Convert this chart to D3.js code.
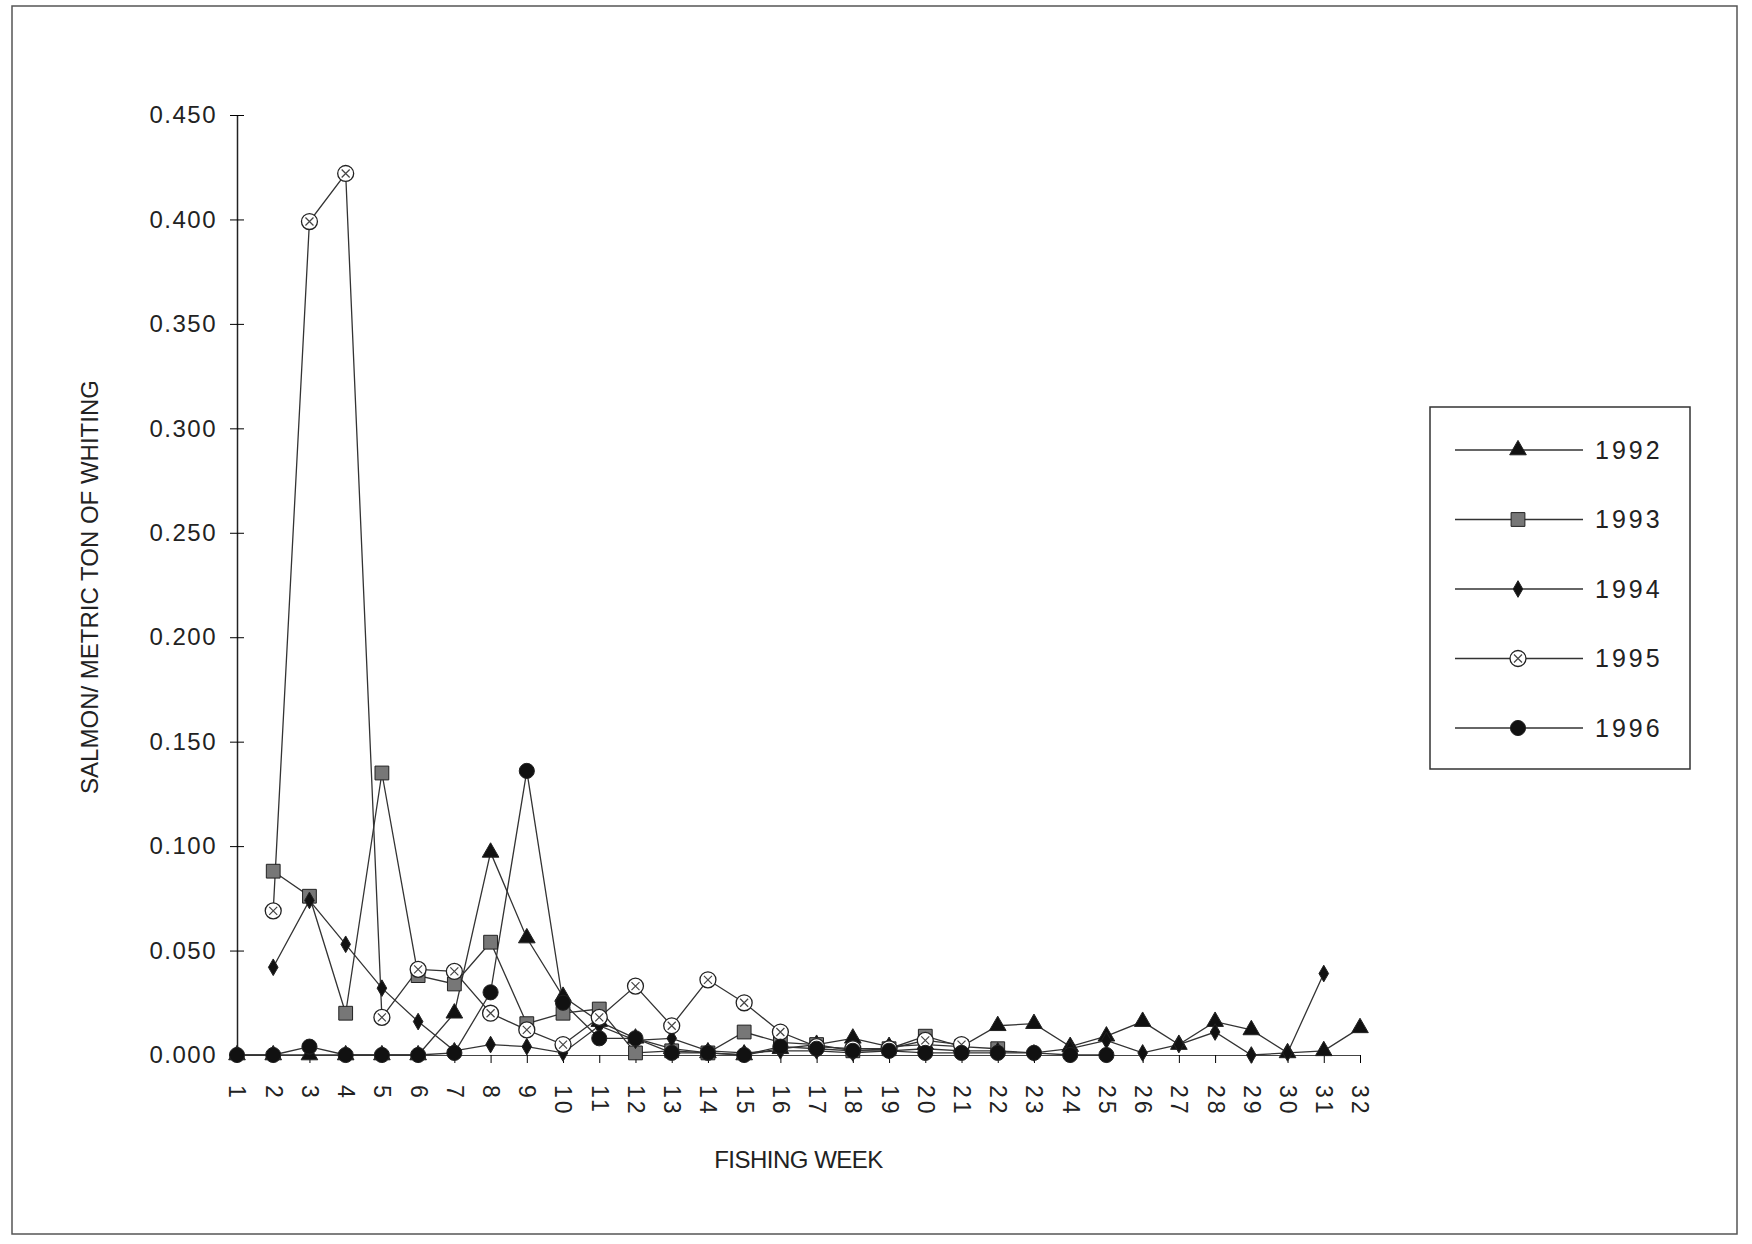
<!DOCTYPE html>
<html><head><meta charset="utf-8">
<script src="https://cdn.jsdelivr.net/npm/d3@7"></script>
<style>body{margin:0;background:#fff}text{font-family:"Liberation Sans",Arial,sans-serif;fill:#222}</style>
</head><body><div id="chart"></div>
<script>
// fishing weeks 1..32
var weeks = d3.range(1, 33)
var yTicks = [0, 0.05, 0.1, 0.15, 0.2, 0.25, 0.3, 0.35, 0.4, 0.45]
var years = ['1992', '1993', '1994', '1995', '1996']

// values by week starting at week 1 (null = no data)
var v1992 = [0,0,0,0,0,0,0.020,0.097,0.056,0.028,0.016,0.008,0.003,0.001,0.000,0.003,0.005,0.008,0.004,0.005,0.004,0.014,0.015,0.004,0.009,0.016,0.005,0.016,0.012,0.001,0.002,0.013]
var v1993 = [null,0.088,0.076,0.020,0.135,0.038,0.034,0.054,0.015,0.020,0.022,0.001,0.002,0.001,0.011,0.006,0.005,0.002,0.003,0.009,0.004,0.003]
var v1994 = [null,0.042,0.074,0.053,0.032,0.016,0.002,0.005,0.004,0.001,0.014,0.007,0.008,0.002,0.001,0.002,0.002,0.001,0.002,0.003,0.002,0.002,0.001,0.003,0.007,0.001,0.005,0.011,0.000,0.001,0.039]
var v1995 = [null,0.069,0.399,0.422,0.018,0.041,0.040,0.020,0.012,0.005,0.018,0.033,0.014,0.036,0.025,0.011,0.004,0.003,0.003,0.007,0.005]
var v1996 = [0,0,0.004,0,0,0,0.001,0.030,0.136,0.025,0.008,0.008,0.001,0.001,0,0.004,0.003,0.002,0.002,0.001,0.001,0.001,0.001,0,0]
var allValues = [v1992, v1993, v1994, v1995, v1996]

var W = 1752, H = 1244
var margin = {top: 115, left: 237, right: 392, bottom: 189}

var svg = d3.select("#chart").append("svg").attr("width", W).attr("height", H)
svg.append("rect").attr("x", 12).attr("y", 6).attr("width", 1725).attr("height", 1228)
  .attr("fill", "none").attr("stroke", "#555").attr("stroke-width", 1.5)

var g = svg.append("g").attr("transform", "translate(" + margin.left + "," + margin.top + ")")

var x = d3.scaleLinear().domain([1, 32]).range([0, 1123])
var y = d3.scaleLinear().domain([0, 0.45]).range([940, 0])

var yAxis = g.append("g").call(d3.axisLeft(y).tickValues(yTicks).tickFormat(d3.format(".3f")).tickSize(7).tickSizeOuter(0))
yAxis.selectAll(".tick line").attr("x2", 7).attr("x1", -7)
yAxis.selectAll("text").attr("x", -20).style("font-size", "24px").style("letter-spacing", "1.5px")
yAxis.select(".domain").attr("stroke", "#222").attr("stroke-width", 1.5)

var xAxis = g.append("g").attr("transform", "translate(0," + y(0) + ")")
  .call(d3.axisBottom(x).tickValues(weeks).tickFormat(d3.format("d")).tickSize(8).tickSizeOuter(0))
xAxis.select(".domain").attr("stroke", "#444")
xAxis.selectAll("text").attr("transform", "rotate(90)").attr("y", 0).attr("x", 30).attr("dy", "0.35em")
  .style("text-anchor", "start").style("font-size", "23px").style("letter-spacing", "3px")

g.append("text").attr("x", x(16.5)).attr("y", 1053).attr("text-anchor", "middle")
  .style("font-size", "24px").style("letter-spacing", "-0.5px").text("FISHING WEEK")
svg.append("text").attr("transform", "translate(98,587) rotate(-90)").attr("text-anchor", "middle")
  .style("font-size", "24px").text("SALMON/ METRIC TON OF WHITING")

var shapes = [d3.symbolTriangle, d3.symbolSquare, d3.symbolDiamond, d3.symbolCircle, d3.symbolCircle]
var sizes = [120, 190, 80, 200, 180]
var fills = ["#111", "#777", "#111", "#fff", "#111"]

function drawSymbol(sel, i) {
  sel.append("path").attr("d", d3.symbol().type(shapes[i]).size(sizes[i]))
    .attr("fill", fills[i]).attr("stroke", "#222").attr("stroke-width", i == 3 ? 1.3 : 1)
  if (i == 3) {
    sel.append("path").attr("d", "M-4,-4L4,4M-4,4L4,-4").attr("stroke", "#444").attr("stroke-width", 1.2)
  }
}

var line = d3.line().defined(function(d) { return d != null })
  .x(function(d, i) { return x(i + 1) }).y(function(d) { return y(d) })

allValues.forEach(function(vals, i) {
  g.append("path").datum(vals).attr("d", line).attr("fill", "none")
    .attr("stroke", "#333").attr("stroke-width", 1.3)
})
allValues.forEach(function(vals, i) {
  vals.forEach(function(v, k) {
    if (v == null) return
    drawSymbol(g.append("g").attr("transform", "translate(" + x(k + 1) + "," + y(v) + ")"), i)
  })
})

// legend
var lg = svg.append("g").attr("transform", "translate(1430,407)")
lg.append("rect").attr("width", 260).attr("height", 362).attr("fill", "#fff").attr("stroke", "#333").attr("stroke-width", 1.5)
years.forEach(function(yr, i) {
  var row = lg.append("g").attr("transform", "translate(0," + (43 + i * 69.5) + ")")
  row.append("line").attr("x1", 25).attr("x2", 153).attr("stroke", "#333").attr("stroke-width", 1.3)
  drawSymbol(row.append("g").attr("transform", "translate(88,0)"), i)
  row.append("text").attr("x", 165).attr("dy", "0.35em").style("font-size", "25px").style("letter-spacing", "3px").text(yr)
})
</script></body></html>
